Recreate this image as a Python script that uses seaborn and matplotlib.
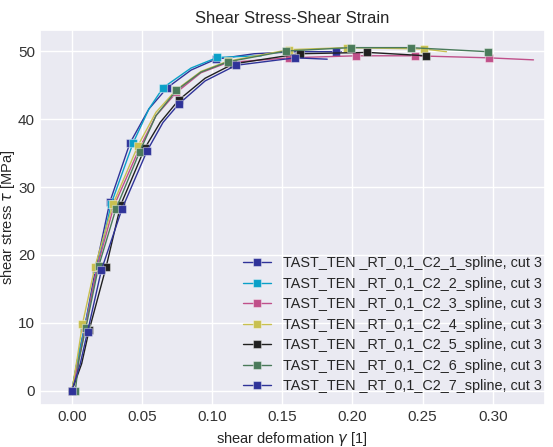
import numpy as np
import pandas as pd
import matplotlib
matplotlib.use("Agg")
import matplotlib.pyplot as plt
import seaborn as sns

sns.set_theme(style="darkgrid", context="notebook")
plt.rcParams["font.family"] = ["Liberation Sans", "DejaVu Sans"]

labels = [f"TAST_TEN _RT_0,1_C2_{i}_spline, cut 3" for i in range(1, 8)]
colors = ["#2f3399", "#0aa0c8", "#c0508a", "#c8c050", "#202020", "#4a7a5a", "#2f3399"]

# strain / stress points per specimen; last point of each has no marker
s1_x = [0.0, 0.004, 0.009, 0.017, 0.0271, 0.0413, 0.055, 0.068, 0.085, 0.1026, 0.13, 0.16, 0.188, 0.192]
s1_y = [0.0, 4.5, 9.2, 18.0, 27.8, 36.4, 41.5, 44.6, 47.2, 48.8, 49.6, 49.9, 49.9, 49.9]
s1_m = [0, 2, 3, 4, 5, 7, 9, 12]

s2_x = [0.0, 0.004, 0.009, 0.018, 0.028, 0.0437, 0.055, 0.065, 0.085, 0.1037, 0.12, 0.135]
s2_y = [0.0, 4.5, 9.3, 18.0, 27.5, 36.5, 41.5, 44.6, 47.5, 49.05, 49.2, 49.3]
s2_m = [0, 2, 3, 4, 5, 7, 9]

s3_x = [0.0, 0.005, 0.0095, 0.018, 0.030, 0.048, 0.060, 0.0745, 0.092, 0.111, 0.1548, 0.2027, 0.2443, 0.297, 0.329]
s3_y = [0.0, 4.5, 9.3, 18.2, 27.2, 35.6, 40.5, 43.9, 46.8, 48.3, 49.0, 49.3, 49.3, 49.0, 48.7]
s3_m = [0, 2, 3, 4, 5, 7, 9, 10, 11, 12, 13]

s4_x = [0.0, 0.004, 0.0076, 0.0164, 0.0294, 0.0472, 0.060, 0.0745, 0.092, 0.111, 0.1548, 0.196, 0.251, 0.267]
s4_y = [0.0, 5.0, 9.85, 18.2, 27.5, 36.1, 41.0, 44.3, 47.0, 48.5, 50.2, 50.5, 50.3, 49.9]
s4_m = [0, 2, 3, 4, 5, 7, 9, 10, 11, 12]

s5_x = [0.0, 0.007, 0.0123, 0.0244, 0.0349, 0.052, 0.063, 0.0762, 0.095, 0.115, 0.1624, 0.2106, 0.2526]
s5_y = [0.0, 4.0, 8.9, 18.2, 27.4, 35.7, 39.5, 42.8, 46.0, 48.1, 49.6, 49.8, 49.3]
s5_m = [0, 2, 3, 4, 5, 7, 9, 10, 11, 12]

s6_x = [0.0025, 0.005, 0.010, 0.0192, 0.0313, 0.0484, 0.060, 0.0745, 0.092, 0.111, 0.1524, 0.1987, 0.2415, 0.2965]
s6_y = [0.0, 4.5, 9.3, 18.4, 26.7, 35.2, 40.5, 44.2, 46.9, 48.4, 50.0, 50.5, 50.5, 49.9]
s6_m = [0, 2, 3, 4, 5, 7, 9, 10, 11, 12, 13]

s7_x = [0.0, 0.006, 0.0112, 0.0211, 0.0358, 0.0536, 0.065, 0.0762, 0.095, 0.117, 0.1593, 0.182]
s7_y = [0.0, 4.0, 8.7, 17.8, 26.8, 35.3, 39.5, 42.2, 45.6, 47.9, 49.0, 48.8]
s7_m = [0, 2, 3, 4, 5, 7, 9, 10]

series = [(s1_x, s1_y, s1_m), (s2_x, s2_y, s2_m), (s3_x, s3_y, s3_m), (s4_x, s4_y, s4_m),
          (s5_x, s5_y, s5_m), (s6_x, s6_y, s6_m), (s7_x, s7_y, s7_m)]

fig, ax = plt.subplots(figsize=(5.53, 4.47), dpi=100)
for (xs, ys, ms), lab, col in zip(series, labels, colors):
    df = pd.DataFrame({"x": xs, "y": ys})
    sns.lineplot(data=df, x="x", y="y", ax=ax, color=col, label=lab, sort=False,
                 linewidth=1.0, marker="s", markersize=6, markevery=ms,
                 markeredgecolor=(1, 1, 1, 0.4), markeredgewidth=0.8, estimator=None)

ax.set_title("Shear Stress-Shear Strain", fontsize=12, pad=5)
ax.set_xlabel(r"shear deformation $\gamma$ [1]", fontsize=10.5)
ax.set_ylabel(r"shear stress $\tau$ [MPa]", fontsize=10.5)
ax.xaxis.set_label_coords(0.5, -0.068)
ax.yaxis.set_label_coords(-0.045, 0.5)
ax.set_xticks([0.0, 0.05, 0.10, 0.15, 0.20, 0.25, 0.30])
ax.set_yticks([0, 10, 20, 30, 40, 50])
ax.set_xlim(-0.0228, 0.337)
ax.set_ylim(-2.06, 53.1)
ax.tick_params(labelsize=11, colors="#333333", length=0, pad=3.5)
ax.legend(loc="lower right", frameon=False, fontsize=10.4, labelspacing=0.45,
          handletextpad=0.8, borderaxespad=0.0, bbox_to_anchor=(1.006, 0.016))
fig.subplots_adjust(left=0.072, right=0.985, top=0.933, bottom=0.094)
fig.savefig("out.png", dpi=100)
